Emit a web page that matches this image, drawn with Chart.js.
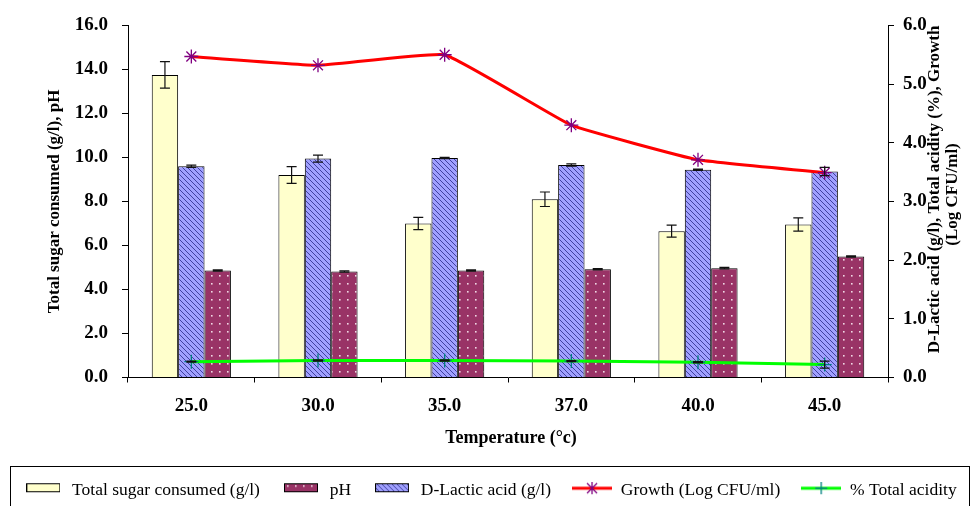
<!DOCTYPE html>
<html>
<head>
<meta charset="utf-8">
<script src="https://cdn.jsdelivr.net/npm/chart.js@4.4.1/dist/chart.umd.min.js"></script>
<style>
  html, body { margin: 0; padding: 0; background: #fff; }
</style>
</head>
<body>
<canvas id="chart" width="980" height="506"></canvas>
<script>
// Values
const temps = ['25.0', '30.0', '35.0', '37.0', '40.0', '45.0'];
const sugar = [13.75, 9.2, 7.0, 8.1, 6.65, 6.95];
const sugarErr = [0.6, 0.38, 0.28, 0.33, 0.27, 0.3];
const lactic = [3.6, 3.73, 3.74, 3.62, 3.54, 3.51];
const lacticErr = [0.02, 0.06, 0.01, 0.02, 0.01, 0.07];
const ph = [4.86, 4.82, 4.86, 4.92, 4.97, 5.5];
const phErr = [0.03, 0.03, 0.03, 0.03, 0.03, 0.03];
const growth = [5.47, 5.32, 5.5, 4.3, 3.71, 3.49];
const acidity = [0.27, 0.29, 0.29, 0.28, 0.26, 0.22];
const acidityErr = [0.01, 0.01, 0.01, 0.01, 0.01, 0.06];
const leftTicks = [0, 2, 4, 6, 8, 10, 12, 14, 16];
const rightTicks = [0, 1, 2, 3, 4, 5, 6];

const serif = "'Liberation Serif', 'Times New Roman', serif";

function makeTile(w, h, draw) {
  const c = document.createElement('canvas');
  c.width = w; c.height = h;
  draw(c.getContext('2d'));
  return c;
}

// diagonal hatch for D-Lactic acid
const hatchTile = makeTile(5, 5, g => {
  g.fillStyle = '#a0a0ff';
  g.fillRect(0, 0, 5, 5);
  g.strokeStyle = '#4040a0';
  g.lineWidth = 1;
  g.beginPath();
  g.moveTo(0, 0); g.lineTo(5, 5);
  g.moveTo(-1, 4); g.lineTo(1, 6);
  g.moveTo(4, -1); g.lineTo(6, 1);
  g.stroke();
});
const hatch = hatchTile.getContext('2d').createPattern(hatchTile, 'repeat');

// dotted fill for pH
const dotTile = makeTile(8, 8, g => {
  g.fillStyle = '#993366';
  g.fillRect(0, 0, 8, 8);
  g.fillStyle = '#f0d8e4';
  g.fillRect(3, 3, 1.6, 1.6);
});
const dots = dotTile.getContext('2d').createPattern(dotTile, 'repeat');

// legend swatches
function barSwatch(fill) {
  return makeTile(34, 16, g => {
    g.fillStyle = fill;
    g.fillRect(0.5, 1.5, 33, 8);
    g.strokeStyle = '#000';
    g.lineWidth = 1;
    g.strokeRect(0.5, 1.5, 33, 8);
  });
}
function lineSwatch(color, markColor, star) {
  return makeTile(40, 16, g => {
    g.strokeStyle = color;
    g.lineWidth = 3;
    g.beginPath(); g.moveTo(0, 6); g.lineTo(40, 6); g.stroke();
    g.strokeStyle = markColor;
    g.lineWidth = 1.3;
    g.beginPath();
    g.moveTo(20, 0); g.lineTo(20, 12);
    if (star) {
      g.moveTo(15, 1); g.lineTo(25, 11);
      g.moveTo(25, 1); g.lineTo(15, 11);
    } else {
      g.moveTo(14, 6); g.lineTo(26, 6);
    }
    g.stroke();
  });
}

const swatches = {
  'Total sugar consumed (g/l)': barSwatch('#ffffcc'),
  'pH': barSwatch(dots),
  'D-Lactic acid (g/l)': barSwatch(hatch),
  'Growth (Log CFU/ml)': lineSwatch('#ff0000', '#800080', true),
  '% Total acidity': lineSwatch('#00ff00', '#008080', false)
};
const legendOrder = ['Total sugar consumed (g/l)', 'pH', 'D-Lactic acid (g/l)', 'Growth (Log CFU/ml)', '% Total acidity'];

const extras = {
  id: 'extras',
  afterDatasetsDraw(chart) {
    const ctx = chart.ctx;
    ctx.save();
    ctx.strokeStyle = '#111';
    ctx.lineWidth = 1.2;
    chart.data.datasets.forEach((ds, i) => {
      if (!ds.errors) return;
      const meta = chart.getDatasetMeta(i);
      const scale = chart.scales[meta.yAxisID];
      const cap = ds.capWidth || 5;
      meta.data.forEach((el, j) => {
        const e = ds.errors[j];
        const yTop = scale.getPixelForValue(ds.data[j] + e);
        const yBot = scale.getPixelForValue(ds.data[j] - e);
        ctx.beginPath();
        ctx.moveTo(el.x, yTop); ctx.lineTo(el.x, yBot);
        ctx.moveTo(el.x - cap, yTop); ctx.lineTo(el.x + cap, yTop);
        ctx.moveTo(el.x - cap, yBot); ctx.lineTo(el.x + cap, yBot);
        ctx.stroke();
      });
    });
    ctx.restore();
  },
  afterDraw(chart) {
    const ctx = chart.ctx;
    const a = chart.chartArea;
    const midY = (a.top + a.bottom) / 2;
    ctx.save();
    ctx.fillStyle = '#000';
    ctx.textAlign = 'center';
    ctx.textBaseline = 'middle';
    ctx.font = 'bold 17px ' + serif;
    // left axis title
    ctx.save();
    ctx.translate(a.left - 73, midY);
    ctx.rotate(-Math.PI / 2);
    ctx.fillText('Total sugar consumed (g/l), pH', 0, 0);
    ctx.restore();
    // right axis title, two lines
    ctx.save();
    ctx.translate(a.right + 47, midY - 12);
    ctx.rotate(-Math.PI / 2);
    ctx.fillText('D-Lactic acid (g/l), Total acidity (%), Growth', 0, 0);
    ctx.restore();
    ctx.save();
    ctx.translate(a.right + 65, midY - 7);
    ctx.rotate(-Math.PI / 2);
    ctx.fillText('(Log CFU/ml)', 0, 0);
    ctx.restore();
    // x axis title
    ctx.font = 'bold 18px ' + serif;
    ctx.fillText('Temperature (\u00b0c)', (a.left + a.right) / 2 + 3, a.bottom + 61);
    // legend frame
    const hb = chart.legend.legendHitBoxes[0];
    if (hb) {
      const cy = hb.top + hb.height / 2;
      ctx.strokeStyle = '#000';
      ctx.lineWidth = 1;
      ctx.strokeRect(10.5, Math.round(cy - 24) + 0.5, 959, 60);
    }
    ctx.restore();
  }
};

const axisBorder = { display: true, color: '#000', width: 1 };
const tickGrid = (len) => ({ display: true, drawOnChartArea: false, drawTicks: true, tickLength: len, color: '#000' });

new Chart(document.getElementById('chart'), {
  type: 'bar',
  data: {
    labels: temps,
    datasets: [
      {
        type: 'line', label: 'Growth (Log CFU/ml)', data: growth, yAxisID: 'y1',
        borderColor: '#ff0000', borderWidth: 3, tension: 0.1, fill: false,
        pointStyle: 'star', pointRadius: 7, pointBorderColor: '#800080',
        pointBackgroundColor: '#800080', pointBorderWidth: 1.3
      },
      {
        type: 'line', label: '% Total acidity', data: acidity, errors: acidityErr, capWidth: 5,
        yAxisID: 'y1', borderColor: '#00ff00', borderWidth: 3, tension: 0, fill: false,
        pointStyle: 'cross', pointRadius: 7, pointBorderColor: '#008080', pointBorderWidth: 1.3
      },
      {
        label: 'Total sugar consumed (g/l)', data: sugar, errors: sugarErr, yAxisID: 'y',
        backgroundColor: '#ffffcc', borderColor: '#000', borderWidth: 1
      },
      {
        label: 'D-Lactic acid (g/l)', data: lactic, errors: lacticErr, capWidth: 5, yAxisID: 'y1',
        backgroundColor: hatch, borderColor: '#000', borderWidth: 1
      },
      {
        label: 'pH', data: ph, errors: phErr, yAxisID: 'y',
        backgroundColor: dots, borderColor: '#000', borderWidth: 1
      }
    ]
  },
  options: {
    responsive: false,
    animation: false,
    datasets: { bar: { categoryPercentage: 0.625, barPercentage: 1 } },
    layout: { padding: { top: 20, left: 0, right: 0, bottom: -3 } },
    plugins: {
      tooltip: { enabled: false },
      legend: {
        position: 'bottom',
        labels: {
          usePointStyle: true,
          pointStyleWidth: 40,
          padding: 21,
          color: '#000',
          font: { family: serif, size: 17.5 },
          generateLabels: () => legendOrder.map(t => ({
            text: t, pointStyle: swatches[t], lineWidth: 0,
            fillStyle: '#fff', strokeStyle: '#fff', hidden: false
          }))
        }
      }
    },
    scales: {
      x: {
        grid: Object.assign(tickGrid(5), { offset: true }),
        border: axisBorder,
        ticks: { color: '#000', padding: 12, font: { family: serif, size: 19, weight: 'bold' } },
        afterFit: s => { s.height = 83; }
      },
      y: {
        position: 'left', min: 0, max: 16,
        afterBuildTicks: s => { s.ticks = leftTicks.map(v => ({ value: v })); },
        grid: tickGrid(6),
        border: axisBorder,
        ticks: {
          color: '#000', padding: 14, font: { family: serif, size: 19, weight: 'bold' },
          callback: v => v.toFixed(1)
        },
        afterFit: s => { s.width = 128; }
      },
      y1: {
        position: 'right', min: 0, max: 6,
        afterBuildTicks: s => { s.ticks = rightTicks.map(v => ({ value: v })); },
        grid: tickGrid(6),
        border: axisBorder,
        ticks: {
          color: '#000', padding: 9, font: { family: serif, size: 19, weight: 'bold' },
          callback: v => v.toFixed(1)
        },
        afterFit: s => { s.width = 92; }
      }
    }
  },
  plugins: [extras]
});
</script>
</body>
</html>
